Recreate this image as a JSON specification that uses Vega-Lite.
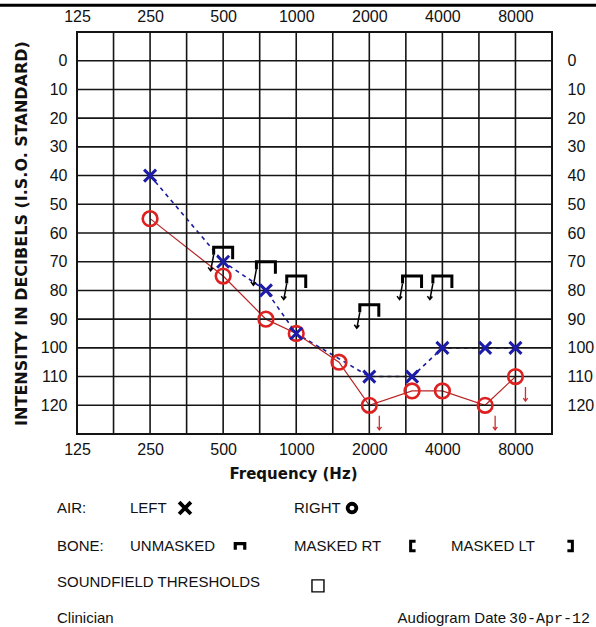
{
  "$schema": "https://vega.github.io/schema/vega-lite/v6.json",
  "width": 475,
  "height": 402,
  "autosize": {"type": "none"},
  "padding": {"left": 77, "top": 32, "right": 44, "bottom": 193},
  "background": "white",
  "config": {
    "view": {"stroke": "#151515", "strokeWidth": 2},
    "axis": {"domain": false, "ticks": false, "grid": false, "labelFont": "Liberation Sans", "labelFontSize": 16, "labelColor": "#111", "labelFlush": false, "labelOverlap": false, "labelBound": false}
  },
  "datasets": {
    "audiogram": [
      {"ear": "Left", "freq": 250, "db": 40, "nr": false},
      {"ear": "Left", "freq": 500, "db": 70, "nr": false},
      {"ear": "Left", "freq": 750, "db": 80, "nr": false},
      {"ear": "Left", "freq": 1000, "db": 95, "nr": false},
      {"ear": "Left", "freq": 2000, "db": 110, "nr": false},
      {"ear": "Left", "freq": 3000, "db": 110, "nr": false},
      {"ear": "Left", "freq": 4000, "db": 100, "nr": false},
      {"ear": "Left", "freq": 6000, "db": 100, "nr": false},
      {"ear": "Left", "freq": 8000, "db": 100, "nr": false},
      {"ear": "Right", "freq": 250, "db": 55, "nr": false},
      {"ear": "Right", "freq": 500, "db": 75, "nr": false},
      {"ear": "Right", "freq": 750, "db": 90, "nr": false},
      {"ear": "Right", "freq": 1000, "db": 95, "nr": false},
      {"ear": "Right", "freq": 1500, "db": 105, "nr": false},
      {"ear": "Right", "freq": 2000, "db": 120, "nr": true},
      {"ear": "Right", "freq": 3000, "db": 115, "nr": false},
      {"ear": "Right", "freq": 4000, "db": 115, "nr": false},
      {"ear": "Right", "freq": 6000, "db": 120, "nr": true},
      {"ear": "Right", "freq": 8000, "db": 110, "nr": true}
    ],
    "bone": [
      {"freq": 500, "db": 65},
      {"freq": 750, "db": 70},
      {"freq": 1000, "db": 75},
      {"freq": 2000, "db": 85},
      {"freq": 3000, "db": 75},
      {"freq": 4000, "db": 75}
    ],
    "gridX": [
      {"freq": 125}, {"freq": 176.78}, {"freq": 250}, {"freq": 353.55}, {"freq": 500}, {"freq": 707.11}, {"freq": 1000},
      {"freq": 1414.21}, {"freq": 2000}, {"freq": 2828.43}, {"freq": 4000}, {"freq": 5656.85}, {"freq": 8000}, {"freq": 11313.71}
    ],
    "gridY": [
      {"db": -10}, {"db": 0}, {"db": 10}, {"db": 20}, {"db": 30}, {"db": 40}, {"db": 50}, {"db": 60},
      {"db": 70}, {"db": 80}, {"db": 90}, {"db": 100}, {"db": 110}, {"db": 120}, {"db": 130}
    ],
    "frame": [{"f1": 10, "f2": 100000, "db": -19.3}],
    "legendText": [
      {"label": "AIR:", "f": 103.4, "db": 155.8},
      {"label": "LEFT", "f": 206.7, "db": 155.8},
      {"label": "RIGHT", "f": 979, "db": 155.8},
      {"label": "BONE:", "f": 103.4, "db": 169},
      {"label": "UNMASKED", "f": 206.7, "db": 169},
      {"label": "MASKED RT", "f": 979, "db": 169},
      {"label": "MASKED LT", "f": 4341, "db": 169},
      {"label": "SOUNDFIELD THRESHOLDS", "f": 103.4, "db": 181.5},
      {"label": "Clinician", "f": 103.4, "db": 194.1}
    ],
    "legendRight": [{"label": "Audiogram Date", "f": 7313, "db": 194.1}],
    "legendDate": [{"label": "30-Apr-12", "f": 16224, "db": 194.1}],
    "legendGlyph": [
      {"glyph": "left", "f": 348.2, "db": 155.8},
      {"glyph": "right", "f": 1697, "db": 155.8},
      {"glyph": "unmasked", "f": 586.7, "db": 169},
      {"glyph": "maskedRT", "f": 3027, "db": 169},
      {"glyph": "maskedLT", "f": 13420, "db": 169},
      {"glyph": "soundfield", "f": 1229, "db": 182.9}
    ]
  },
  "resolve": {"axis": {"x": "independent", "y": "independent"}},
  "layer": [
    {
      "data": {"name": "frame"},
      "mark": {"type": "rule", "color": "#000", "strokeWidth": 3},
      "encoding": {
        "x": {"field": "f1", "type": "quantitative", "scale": {"type": "log", "base": 2, "domain": [125, 11313.71], "nice": false}, "axis": null},
        "x2": {"field": "f2"},
        "y": {"field": "db", "type": "quantitative", "scale": {"domain": [-10, 130], "reverse": true, "nice": false, "zero": false}, "axis": null}
      }
    },
    {
      "data": {"name": "audiogram"},
      "transform": [{"filter": "datum.ear === 'Left'"}],
      "mark": {"type": "line", "color": "#1c1ca0", "strokeWidth": 1.6, "strokeDash": [4, 4]},
      "encoding": {
        "x": {"field": "freq", "type": "quantitative", "scale": {"type": "log", "base": 2, "domain": [125, 11313.71], "nice": false}, "axis": null},
        "y": {"field": "db", "type": "quantitative", "scale": {"domain": [-10, 130], "reverse": true, "nice": false, "zero": false}, "axis": null}
      }
    },
    {
      "data": {"name": "audiogram"},
      "transform": [{"filter": "datum.ear === 'Right'"}],
      "mark": {"type": "line", "color": "#b82424", "strokeWidth": 1.2},
      "encoding": {
        "x": {"field": "freq", "type": "quantitative", "scale": {"type": "log", "base": 2, "domain": [125, 11313.71], "nice": false}, "axis": null},
        "y": {"field": "db", "type": "quantitative", "scale": {"domain": [-10, 130], "reverse": true, "nice": false, "zero": false}, "axis": null}
      }
    },
    {
      "data": {"name": "gridY"},
      "mark": {"type": "rule", "color": "#151515", "strokeWidth": 1.6},
      "encoding": {
        "y": {"field": "db", "type": "quantitative", "scale": {"domain": [-10, 130], "reverse": true, "nice": false, "zero": false},
          "axis": {"orient": "left", "values": [0, 10, 20, 30, 40, 50, 60, 70, 80, 90, 100, 110, 120], "labelPadding": 10,
            "title": "INTENSITY IN DECIBELS (I.S.O. STANDARD)", "titleFont": "DejaVu Sans", "titleFontWeight": "bold", "titleFontSize": 16, "titleColor": "#111",
            "titleAngle": 270, "titleX": -56, "titleY": 201, "titleAlign": "center", "titleBaseline": "middle"}}
      }
    },
    {
      "data": {"name": "gridX"},
      "mark": {"type": "rule", "color": "#151515", "strokeWidth": 1.6},
      "encoding": {
        "x": {"field": "freq", "type": "quantitative", "scale": {"type": "log", "base": 2, "domain": [125, 11313.71], "nice": false},
          "axis": {"orient": "top", "values": [125, 250, 500, 1000, 2000, 4000, 8000], "format": "d", "labelPadding": 8, "title": null}}
      }
    },
    {
      "data": {"name": "audiogram"},
      "transform": [{"filter": "datum.ear === 'Right'"}],
      "mark": {"type": "point", "shape": "circle", "filled": false, "color": "#dd2020", "strokeWidth": 2.6, "size": 215, "opacity": 1},
      "encoding": {
        "x": {"field": "freq", "type": "quantitative", "scale": {"type": "log", "base": 2, "domain": [125, 11313.71], "nice": false},
          "axis": {"orient": "bottom", "values": [125, 250, 500, 1000, 2000, 4000, 8000], "format": "d", "labelPadding": 7,
            "title": "Frequency  (Hz)", "titleFont": "DejaVu Sans", "titleFontWeight": "bold", "titleFontSize": 15, "titleColor": "#111",
            "titleX": 216, "titleY": 39, "titleAlign": "center", "titleBaseline": "middle"}},
        "y": {"field": "db", "type": "quantitative", "scale": {"domain": [-10, 130], "reverse": true, "nice": false, "zero": false},
          "axis": {"orient": "right", "values": [0, 10, 20, 30, 40, 50, 60, 70, 80, 90, 100, 110, 120], "labelPadding": 15, "title": null}}
      }
    },
    {
      "data": {"name": "audiogram"},
      "transform": [{"filter": "datum.ear === 'Right' && datum.nr"}],
      "mark": {"type": "point", "shape": "M1.0,1.05L1.0,2.45M0.78,2.15L1.0,2.45L1.22,2.15", "filled": false, "color": "#cc3030", "strokeWidth": 1.3, "size": 400, "opacity": 1},
      "encoding": {
        "x": {"field": "freq", "type": "quantitative", "scale": {"type": "log", "base": 2, "domain": [125, 11313.71], "nice": false}, "axis": null},
        "y": {"field": "db", "type": "quantitative", "scale": {"domain": [-10, 130], "reverse": true, "nice": false, "zero": false}, "axis": null}
      }
    },
    {
      "data": {"name": "audiogram"},
      "transform": [{"filter": "datum.ear === 'Left'"}],
      "mark": {"type": "point", "shape": "M-1,-1L1,1M-1,1L1,-1", "filled": false, "color": "#1c1ca8", "strokeWidth": 3, "size": 144, "opacity": 1},
      "encoding": {
        "x": {"field": "freq", "type": "quantitative", "scale": {"type": "log", "base": 2, "domain": [125, 11313.71], "nice": false}, "axis": null},
        "y": {"field": "db", "type": "quantitative", "scale": {"domain": [-10, 130], "reverse": true, "nice": false, "zero": false}, "axis": null}
      }
    },
    {
      "data": {"name": "bone"},
      "mark": {"type": "point", "shape": "M-0.95,0.75L-0.95,0L0.95,0L0.95,1.2", "filled": false, "color": "#000", "strokeWidth": 3, "size": 400, "opacity": 1},
      "encoding": {
        "x": {"field": "freq", "type": "quantitative", "scale": {"type": "log", "base": 2, "domain": [125, 11313.71], "nice": false}, "axis": null},
        "y": {"field": "db", "type": "quantitative", "scale": {"domain": [-10, 130], "reverse": true, "nice": false, "zero": false}, "axis": null}
      }
    },
    {
      "data": {"name": "bone"},
      "mark": {"type": "point", "shape": "M-0.95,0.75L-1.25,2.35M-1.5,2.0L-1.25,2.35L-1.0,2.05", "filled": false, "color": "#000", "strokeWidth": 1.5, "size": 400, "opacity": 1},
      "encoding": {
        "x": {"field": "freq", "type": "quantitative", "scale": {"type": "log", "base": 2, "domain": [125, 11313.71], "nice": false}, "axis": null},
        "y": {"field": "db", "type": "quantitative", "scale": {"domain": [-10, 130], "reverse": true, "nice": false, "zero": false}, "axis": null}
      }
    },
    {
      "data": {"name": "legendText"},
      "mark": {"type": "text", "align": "left", "baseline": "middle", "font": "Liberation Sans", "fontSize": 15, "color": "#111"},
      "encoding": {
        "x": {"field": "f", "type": "quantitative", "scale": {"type": "log", "base": 2, "domain": [125, 11313.71], "nice": false}, "axis": null},
        "y": {"field": "db", "type": "quantitative", "scale": {"domain": [-10, 130], "reverse": true, "nice": false, "zero": false}, "axis": null},
        "text": {"field": "label"}
      }
    },
    {
      "data": {"name": "legendRight"},
      "mark": {"type": "text", "align": "right", "baseline": "middle", "font": "Liberation Sans", "fontSize": 15, "color": "#111"},
      "encoding": {
        "x": {"field": "f", "type": "quantitative", "scale": {"type": "log", "base": 2, "domain": [125, 11313.71], "nice": false}, "axis": null},
        "y": {"field": "db", "type": "quantitative", "scale": {"domain": [-10, 130], "reverse": true, "nice": false, "zero": false}, "axis": null},
        "text": {"field": "label"}
      }
    },
    {
      "data": {"name": "legendDate"},
      "mark": {"type": "text", "align": "right", "baseline": "middle", "font": "Liberation Mono", "fontSize": 15, "color": "#111"},
      "encoding": {
        "x": {"field": "f", "type": "quantitative", "scale": {"type": "log", "base": 2, "domain": [125, 11313.71], "nice": false}, "axis": null},
        "y": {"field": "db", "type": "quantitative", "scale": {"domain": [-10, 130], "reverse": true, "nice": false, "zero": false}, "axis": null},
        "text": {"field": "label"}
      }
    },
    {
      "data": {"name": "legendGlyph"},
      "transform": [{"filter": "datum.glyph === 'left'"}],
      "mark": {"type": "point", "shape": "M-1,-1L1,1M-1,1L1,-1", "filled": false, "color": "#000", "strokeWidth": 3.8, "size": 140, "opacity": 1},
      "encoding": {
        "x": {"field": "f", "type": "quantitative", "scale": {"type": "log", "base": 2, "domain": [125, 11313.71], "nice": false}, "axis": null},
        "y": {"field": "db", "type": "quantitative", "scale": {"domain": [-10, 130], "reverse": true, "nice": false, "zero": false}, "axis": null}
      }
    },
    {
      "data": {"name": "legendGlyph"},
      "transform": [{"filter": "datum.glyph === 'right'"}],
      "mark": {"type": "point", "shape": "circle", "filled": false, "color": "#000", "strokeWidth": 3.8, "size": 75, "opacity": 1},
      "encoding": {
        "x": {"field": "f", "type": "quantitative", "scale": {"type": "log", "base": 2, "domain": [125, 11313.71], "nice": false}, "axis": null},
        "y": {"field": "db", "type": "quantitative", "scale": {"domain": [-10, 130], "reverse": true, "nice": false, "zero": false}, "axis": null}
      }
    },
    {
      "data": {"name": "legendGlyph"},
      "transform": [{"filter": "datum.glyph === 'unmasked'"}],
      "mark": {"type": "point", "shape": "M-1,0.8L-1,-0.5L1,-0.5L1,0.8", "filled": false, "color": "#000", "strokeWidth": 3.2, "size": 90, "opacity": 1},
      "encoding": {
        "x": {"field": "f", "type": "quantitative", "scale": {"type": "log", "base": 2, "domain": [125, 11313.71], "nice": false}, "axis": null},
        "y": {"field": "db", "type": "quantitative", "scale": {"domain": [-10, 130], "reverse": true, "nice": false, "zero": false}, "axis": null}
      }
    },
    {
      "data": {"name": "legendGlyph"},
      "transform": [{"filter": "datum.glyph === 'maskedRT'"}],
      "mark": {"type": "point", "shape": "M0.55,-1L-0.5,-1L-0.5,1L0.55,1", "filled": false, "color": "#000", "strokeWidth": 3, "size": 90, "opacity": 1},
      "encoding": {
        "x": {"field": "f", "type": "quantitative", "scale": {"type": "log", "base": 2, "domain": [125, 11313.71], "nice": false}, "axis": null},
        "y": {"field": "db", "type": "quantitative", "scale": {"domain": [-10, 130], "reverse": true, "nice": false, "zero": false}, "axis": null}
      }
    },
    {
      "data": {"name": "legendGlyph"},
      "transform": [{"filter": "datum.glyph === 'maskedLT'"}],
      "mark": {"type": "point", "shape": "M-0.55,-1L0.5,-1L0.5,1L-0.55,1", "filled": false, "color": "#000", "strokeWidth": 3, "size": 90, "opacity": 1},
      "encoding": {
        "x": {"field": "f", "type": "quantitative", "scale": {"type": "log", "base": 2, "domain": [125, 11313.71], "nice": false}, "axis": null},
        "y": {"field": "db", "type": "quantitative", "scale": {"domain": [-10, 130], "reverse": true, "nice": false, "zero": false}, "axis": null}
      }
    },
    {
      "data": {"name": "legendGlyph"},
      "transform": [{"filter": "datum.glyph === 'soundfield'"}],
      "mark": {"type": "point", "shape": "square", "filled": false, "color": "#000", "strokeWidth": 1.4, "size": 144, "opacity": 1},
      "encoding": {
        "x": {"field": "f", "type": "quantitative", "scale": {"type": "log", "base": 2, "domain": [125, 11313.71], "nice": false}, "axis": null},
        "y": {"field": "db", "type": "quantitative", "scale": {"domain": [-10, 130], "reverse": true, "nice": false, "zero": false}, "axis": null}
      }
    }
  ]
}
